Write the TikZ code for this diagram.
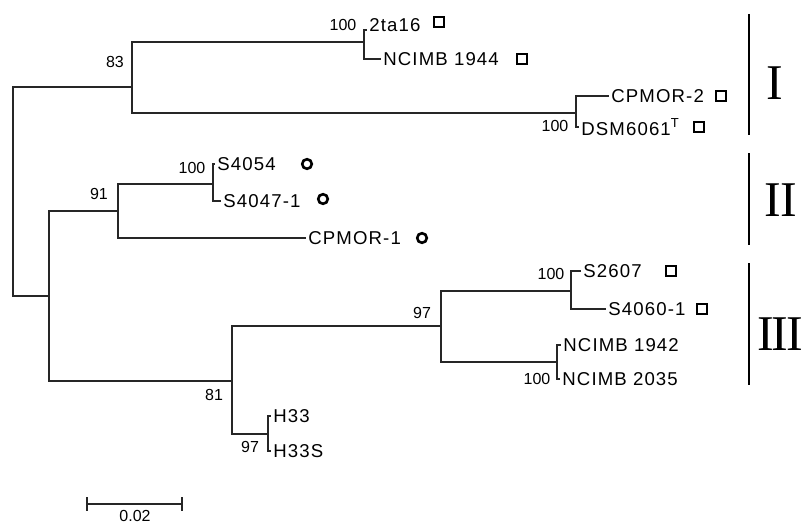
\documentclass[tikz,border=0pt]{standalone}
\usepackage{fontspec}
\setmainfont{Liberation Sans}
\newfontfamily\numfont{Liberation Serif}
\newfontfamily\taxfont[LetterSpace=6]{Liberation Sans}
\usetikzlibrary{positioning}
\tikzset{
  branch/.style={line width=0.65pt, black!85, line cap=rect},
  taxon/.style={anchor=west, inner sep=1.5pt, font=\taxfont\fontsize{9.3}{10}\selectfont},
  boot/.style={inner sep=1pt, font=\fontsize{8}{9}\selectfont},
  sqmark/.style={draw, line width=1.3pt, minimum size=5pt, inner sep=0pt},
  cmark/.style={draw, circle, line width=1.3pt, minimum size=4.8pt, inner sep=0pt},
  cladebar/.style={line width=1.1pt},
  cladenum/.style={font=\numfont\fontsize{25}{25}\selectfont, inner sep=0pt},
}

\begin{document}
\begin{tikzpicture}[x=0.5pt, y=-0.5pt]
\useasboundingbox (0,0) rectangle (807,524);

% internal nodes
\coordinate (root) at (13,190);
\coordinate (n83) at (132,87);
\coordinate (n100a) at (364,42);
\coordinate (n100b) at (576,113);
\coordinate (nlow) at (49,296);
\coordinate (n91) at (118,211);
\coordinate (n100c) at (213,184);
\coordinate (n81) at (232,381);
\coordinate (n97a) at (441,326);
\coordinate (n100d) at (571,291);
\coordinate (n100e) at (557,362);
\coordinate (n97b) at (268,434);

% tips
\coordinate (t2ta16) at (366,30);
\coordinate (tN1944) at (380,59);
\coordinate (tCPMOR2) at (608,96);
\coordinate (tDSM) at (578,127);
\coordinate (tS4054) at (214,164);
\coordinate (tS4047) at (220,201);
\coordinate (tCPMOR1) at (305,238);
\coordinate (tS2607) at (580,271);
\coordinate (tS4060) at (605,309);
\coordinate (tN1942) at (560,345);
\coordinate (tN2035) at (559,379);
\coordinate (tH33) at (270,416);
\coordinate (tH33S) at (270,451);

% branches
\draw[branch] (root) |- (n83);
\draw[branch] (root) |- (nlow);
\draw[branch] (n83) |- (n100a);
\draw[branch] (n83) |- (n100b);
\draw[branch] (n100a) |- (t2ta16);
\draw[branch] (n100a) |- (tN1944);
\draw[branch] (n100b) |- (tCPMOR2);
\draw[branch] (n100b) |- (tDSM);
\draw[branch] (nlow) |- (n91);
\draw[branch] (nlow) |- (n81);
\draw[branch] (n91) |- (n100c);
\draw[branch] (n91) |- (tCPMOR1);
\draw[branch] (n100c) |- (tS4054);
\draw[branch] (n100c) |- (tS4047);
\draw[branch] (n81) |- (n97a);
\draw[branch] (n81) |- (n97b);
\draw[branch] (n97a) |- (n100d);
\draw[branch] (n97a) |- (n100e);
\draw[branch] (n100d) |- (tS2607);
\draw[branch] (n100d) |- (tS4060);
\draw[branch] (n100e) |- (tN1942);
\draw[branch] (n100e) |- (tN2035);
\draw[branch] (n97b) |- (tH33);
\draw[branch] (n97b) |- (tH33S);

% taxa
\node[taxon, yshift=2.5pt] (l2ta16) at (t2ta16) {2ta16};
\node[taxon] (lN1944) at (tN1944) {NCIMB 1944};
\node[taxon] (lCPMOR2) at (tCPMOR2) {CPMOR-2};
\node[taxon] (lDSM) at (tDSM) {DSM6061\textsuperscript{T}};
\node[taxon] (lS4054) at (tS4054) {S4054};
\node[taxon] (lS4047) at (tS4047) {S4047-1};
\node[taxon] (lCPMOR1) at (tCPMOR1) {CPMOR-1};
\node[taxon] (lS2607) at (tS2607) {S2607};
\node[taxon] (lS4060) at (tS4060) {S4060-1};
\node[taxon] (lN1942) at (tN1942) {NCIMB 1942};
\node[taxon] (lN2035) at (tN2035) {NCIMB 2035};
\node[taxon] (lH33) at (tH33) {H33};
\node[taxon] (lH33S) at (tH33S) {H33S};

% markers
\node[sqmark] (m2ta16) at (439,22) {};
\node[sqmark] (mN1944) at (522,59) {};
\node[sqmark] (mCPMOR2) at (721,96) {};
\node[sqmark] (mDSM) at (699,127) {};
\node[sqmark] (mS2607) at (671,271) {};
\node[sqmark] (mS4060) at (702,309) {};
\node[cmark] (mS4054) at (307,164) {};
\node[cmark] (mS4047) at (323,199) {};
\node[cmark] (mCPMOR1) at (422,238) {};

% bootstrap values
\node[boot] (b83) at (115,62) {83};
\node[boot] (b100a) at (343,25) {100};
\node[boot] (b100b) at (555,126) {100};
\node[boot] (b91) at (99,194) {91};
\node[boot] (b100c) at (192,168) {100};
\node[boot] (b81) at (214,395) {81};
\node[boot] (b97a) at (422,313) {97};
\node[boot] (b100d) at (551,274) {100};
\node[boot] (b100e) at (537,379) {100};
\node[boot] (b97b) at (250,447) {97};

% clades
\coordinate (cItop) at (749,14);
\coordinate (cIbot) at (749,135);
\coordinate (cIItop) at (749,153);
\coordinate (cIIbot) at (749,245);
\coordinate (cIIItop) at (749,263);
\coordinate (cIIIbot) at (749,385);
\draw[cladebar] (cItop) -- (cIbot);
\draw[cladebar] (cIItop) -- (cIIbot);
\draw[cladebar] (cIIItop) -- (cIIIbot);
\node[cladenum] (kI) at (775,83) {I};
\node[cladenum] (kII) at (781,200) {I\kern-0.5ptI};
\node[cladenum] (kIII) at (780,334) {I\kern-1ptI\kern-1ptI};

% scale bar
\coordinate (sbl) at (87,504);
\coordinate (sbr) at (182,504);
\draw[branch] (sbl) -- (sbr);
\draw[branch] ([yshift=3pt]sbl) -- ([yshift=-3pt]sbl);
\draw[branch] ([yshift=3pt]sbr) -- ([yshift=-3pt]sbr);
\node[boot, anchor=north] (sblab) at (135,508) {0.02};

\end{tikzpicture}
\end{document}
